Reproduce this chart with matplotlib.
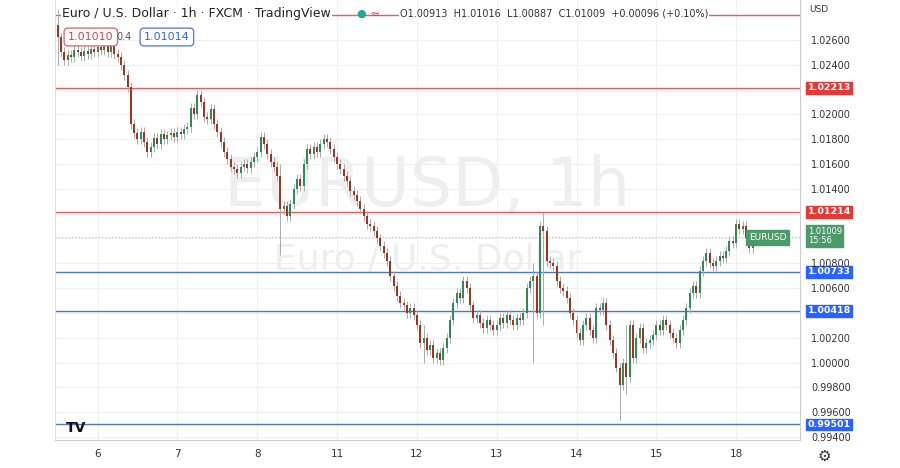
import matplotlib
matplotlib.use("Agg")
import matplotlib.pyplot as plt

closes = [
 1.0262,1.0250,1.0244,1.0248,1.0246,1.0252,1.0250,1.0247,1.0251,1.0249,1.0253,1.0250,
 1.0254,1.0252,1.0255,1.0250,1.0256,1.0249,1.0246,1.0240,1.0232,1.0222,1.0192,1.0185,1.0180,1.0186,1.0178,1.0170,1.0174,1.0181,1.0176,1.0184,1.0180,1.0183,1.0185,1.0182,
 1.0186,1.0184,1.0188,1.0190,1.0205,1.0200,1.0216,1.0210,1.0198,1.0196,1.0204,1.0192,1.0186,1.0178,1.0170,1.0164,1.0158,1.0156,1.0153,1.0158,1.0160,1.0157,1.0162,1.0166,
 1.0170,1.0182,1.0176,1.0168,1.0162,1.0158,1.0150,1.0124,1.0126,1.0118,1.0128,1.0140,1.0148,1.0142,1.0160,1.0172,1.0168,1.0174,1.0170,1.0176,1.0180,1.0178,1.0172,1.0166,
 1.0160,1.0156,1.0150,1.0146,1.0138,1.0135,1.0130,1.0124,1.0118,1.0112,1.0110,1.0106,1.0100,1.0094,1.0088,1.0082,1.0070,1.0062,1.0054,1.0048,1.0046,1.0040,1.0044,1.0038,
 1.0030,1.0016,1.0020,1.0010,1.0014,1.0004,1.0008,1.0002,1.0012,1.0020,1.0034,1.0048,1.0056,1.0052,1.0066,1.0060,1.0046,1.0036,1.0038,1.0032,1.0028,1.0034,1.0030,1.0026,
 1.0030,1.0036,1.0032,1.0038,1.0034,1.0030,1.0036,1.0034,1.0040,1.0060,1.0066,1.0070,1.0040,1.0110,1.0106,1.0082,1.0080,1.0078,1.0066,1.0060,1.0058,1.0052,1.0040,1.0034,
 1.0024,1.0018,1.0030,1.0036,1.0026,1.0020,1.0044,1.0042,1.0048,1.0030,1.0018,1.0008,0.9996,0.9982,1.0000,0.9988,1.0030,1.0004,1.0020,1.0028,1.0012,1.0016,1.0018,1.0022,
 1.0030,1.0026,1.0034,1.0030,1.0024,1.0020,1.0016,1.0026,1.0034,1.0044,1.0056,1.0062,1.0056,1.0074,1.0082,1.0088,1.0080,1.0078,1.0082,1.0086,1.0084,1.0090,1.0098,1.0096,
 1.0112,1.0108,1.0110,1.0100,1.0092,1.01009]
first_open = 1.0272
wick = 0.0004
extremes = {0: (1.0285, 1.0240), 67: (1.0160, 1.0087), 146: (1.0121, 1.0030), 143: (1.0080, 1.0000),
            169: (1.0000, 0.9954), 171: (1.0030, 0.9975), 110: (1.0030, 1.0000)}

day_labels = ["6", "7", "8", "11", "12", "13", "14", "15", "18"]
day_idx = [12, 36, 60, 84, 108, 132, 156, 180, 204]
grid_ticks = [1.028, 1.026, 1.024, 1.022, 1.020, 1.018, 1.016, 1.014, 1.012, 1.010, 1.008, 1.006, 1.004, 1.002, 1.000, 0.998, 0.996, 0.994]
label_ticks = [1.026, 1.024, 1.020, 1.018, 1.016, 1.014, 1.008, 1.006, 1.002, 1.000, 0.998, 0.996, 0.994]
red_levels = [1.0280, 1.02213, 1.01214]
blue_levels = [1.00733, 1.00418, 0.99501]
last_price = 1.01009

UP, DN = "#2e8b57", "#a0341f"
fig = plt.figure(figsize=(9, 4.68), dpi=100)
ax = fig.add_axes([55/900, 28/468, 745/900, 440/468])
ymin, ymax = 0.99376, 1.02922
ax.set_ylim(ymin, ymax)
ax.set_xlim(-0.8, 223.2)

for i, c in enumerate(closes):
    o = first_open if i == 0 else closes[i-1]
    hi, lo = max(o, c) + wick, min(o, c) - wick
    if i in extremes:
        hi, lo = extremes[i]
    col = UP if c >= o else DN
    ax.vlines(i, lo, hi, color="#aaaaaa", lw=0.7, zorder=2)
    ax.bar(i, max(abs(c - o), 0.00004), bottom=min(o, c), width=0.6, color=col, zorder=3, linewidth=0)

for t in grid_ticks:
    ax.axhline(t, color="#f0f0f0", lw=0.8, zorder=0)
for d in day_idx:
    ax.axvline(d, color="#f0f0f0", lw=0.8, zorder=0)
for lv in red_levels:
    ax.axhline(lv, color="#e06060", lw=1, zorder=1)
for lv in blue_levels:
    ax.axhline(lv, color="#4a78d0", lw=1, zorder=1)
ax.axhline(last_price, color="#bbbbbb", lw=0.8, ls=(0, (1, 2)), zorder=1)

ax.text(0.5, 0.575, "EURUSD, 1h", transform=ax.transAxes, ha="center", va="center",
        fontsize=48, color="#eeeeee", zorder=0)
ax.text(0.5, 0.41, "Euro / U.S. Dollar", transform=ax.transAxes, ha="center", va="center",
        fontsize=26, color="#eeeeee", zorder=0)

ax.set_xticks([]); ax.set_yticks([])
for s in ["top", "right"]:
    ax.spines[s].set_visible(False)
ax.spines["left"].set_color("#dddddd")
ax.spines["bottom"].set_color("#cccccc")

ax2 = ax.twinx()
ax2.set_ylim(ymin, ymax)
ax2.set_yticks(label_ticks)
ax2.set_yticklabels([f"{t:.5f}" for t in label_ticks])
ax2.tick_params(axis="y", length=0, labelsize=7, labelcolor="#333333", pad=8)
for s in ["top", "left", "bottom"]:
    ax2.spines[s].set_visible(False)
ax2.spines["right"].set_color("#cccccc")

def tag(y, txt, fc):
    ax.text(225.5, y, txt, ha="left", va="center", fontsize=6.8, color="white", clip_on=False,
            fontweight="bold", bbox=dict(boxstyle="square,pad=0.15", fc=fc, ec=fc), zorder=6)

for lv in red_levels[1:]:
    tag(lv, f"{lv:.5f}", "#e53935")
for lv in blue_levels:
    tag(lv, f"{lv:.5f}", "#2962ff")
ax.text(225.5, last_price + 0.0001, f"{last_price:.5f}\n15:56", ha="left", va="center", fontsize=6,
        color="white", clip_on=False, linespacing=1.0,
        bbox=dict(boxstyle="square,pad=0.2", fc="#4c9a6a", ec="#4c9a6a"), zorder=6)
ax.text(213.5, last_price, "EURUSD", ha="center", va="center", fontsize=6.5, color="white",
        bbox=dict(boxstyle="square,pad=0.3", fc="#4c9a6a", ec="#4c9a6a"), zorder=6)
fig.text(809/900, 1 - 10/468, "USD", fontsize=6.5, color="#333333", va="center")

fig.text(62/900, 1 - 14/468, "Euro / U.S. Dollar · 1h · FXCM · TradingView", fontsize=9, color="#222222", va="center",
         bbox=dict(boxstyle="square,pad=0.1", fc="white", ec="none"))
fig.text(400/900, 1 - 14/468, "O1.00913  H1.01016  L1.00887  C1.01009  +0.00096 (+0.10%)",
         fontsize=7, color="#333333", va="center", bbox=dict(boxstyle="square,pad=0.1", fc="white", ec="none"))
fig.text(356/900, 1 - 14/468, "●", fontsize=8, color="#26a69a", va="center")
fig.text(370/900, 1 - 14/468, "≈", fontsize=9, color="#d04080", va="center")
fig.text(68/900, 1 - 37/468, "1.01010", fontsize=8, color="#e04040", va="center",
         bbox=dict(boxstyle="round,pad=0.35", fc="white", ec="#e07070"))
fig.text(116/900, 1 - 37/468, "0.4", fontsize=7, color="#555555", va="center")
fig.text(144/900, 1 - 37/468, "1.01014", fontsize=8, color="#2962ff", va="center",
         bbox=dict(boxstyle="round,pad=0.35", fc="white", ec="#6080e0"))

for lbl, d in zip(day_labels, day_idx):
    ax.text(d, -0.032, lbl, transform=ax.get_xaxis_transform(), ha="center", va="center",
            fontsize=7.5, color="#333333", clip_on=False)
fig.text(66/900, 1 - 428/468, "TV", fontsize=10, fontweight="bold", color="#111111", va="center")
fig.text(818/900, 1 - 456/468, "⚙", fontsize=11, color="#333333", va="center")

fig.savefig("out.png", dpi=100, facecolor="white")
